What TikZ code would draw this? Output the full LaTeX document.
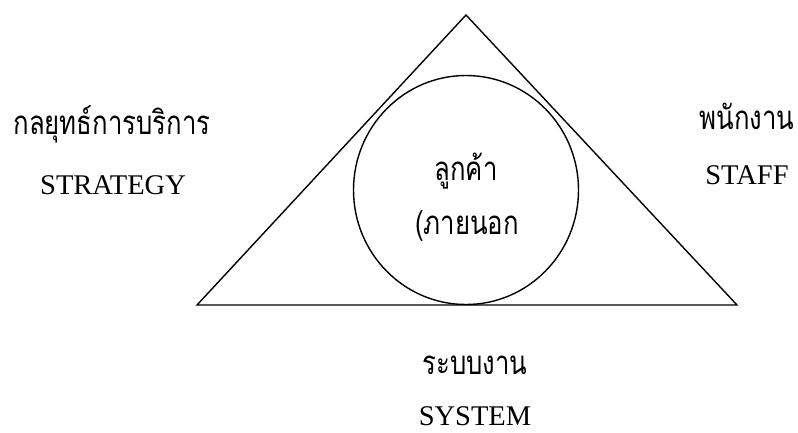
\documentclass[tikz,border=0pt]{standalone}
\usepackage{fontspec}
\setmainfont{Liberation Serif}
\newfontfamily\thaifont[Script=Thai, FakeStretch=0.78]{Loma}
\usetikzlibrary{shapes.geometric}

\begin{document}
\begin{tikzpicture}[
    x=1pt, y=-1pt,
    every node/.style={inner sep=0pt},
    thlabel/.style={font=\thaifont\fontsize{33}{38}\selectfont, anchor=base},
    enlabel/.style={font=\fontsize{28.5}{33}\selectfont, anchor=base},
    edge/.style={draw=black, line width=1.4pt, line join=miter}
]
\useasboundingbox (0,0) rectangle (798,432);

% triangle
\coordinate (apex) at (466,15);
\coordinate (left) at (197,305);
\coordinate (right) at (737,305);
\draw[edge] (apex) -- (left) -- (right) -- cycle;

% customer in the middle
\node[ellipse, draw, line width=1.4pt, minimum width=225pt, minimum height=229pt] (client) at (466,190) {};
\node[thlabel] (clientth) at (466,180) {ลูกค้า};
\node[thlabel] (clientex) at (467,234) {(ภายนอก};

% three sides
\node[thlabel] (strategyth) at (112,134) {กลยุทธ์การบริการ};
\node[enlabel] (strategy) at (113,194) {STRATEGY};
\node[thlabel] (staffth) at (747,129) {พนักงาน};
\node[enlabel] (staff) at (747,184) {STAFF};
\node[thlabel] (systemth) at (475,374) {ระบบงาน};
\node[enlabel] (system) at (475,425) {SYSTEM};

\end{tikzpicture}
\end{document}
